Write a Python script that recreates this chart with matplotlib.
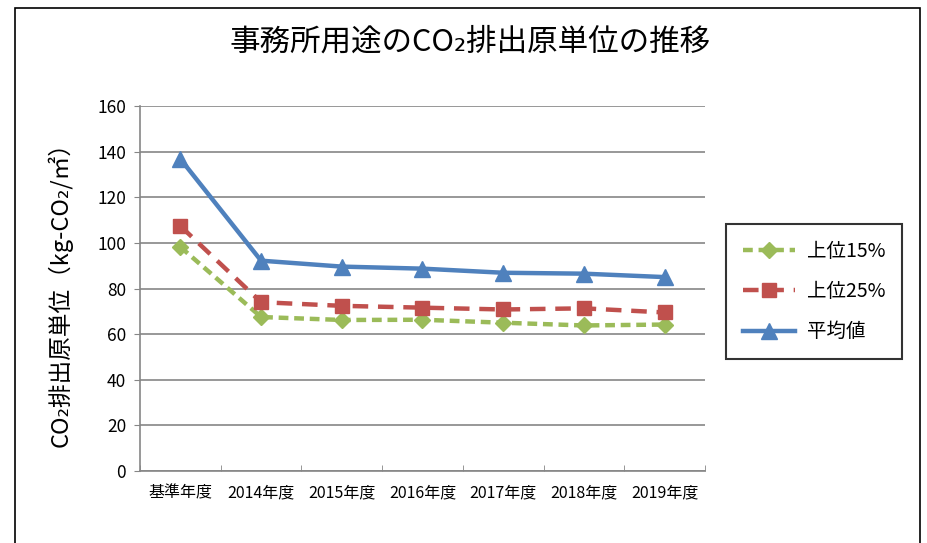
import matplotlib
matplotlib.use("Agg")
import matplotlib.pyplot as plt
from matplotlib.patches import Rectangle

plt.rcParams['font.family'] = ['Noto Sans CJK JP', 'DejaVu Sans']

categories = ["基準年度", "2014年度", "2015年度", "2016年度", "2017年度", "2018年度", "2019年度"]
top15 = [98.2, 67.5, 66.2, 66.3, 65.0, 63.8, 64.2]
top25 = [107.4, 74.0, 72.4, 71.6, 70.8, 71.3, 69.5]
average = [136.8, 92.2, 89.6, 88.7, 86.9, 86.5, 85.0]
series_names = ["上位15%", "上位25%", "平均値"]
title = "事務所用途のCO₂排出原単位の推移"
ylabel = "CO₂排出原単位（kg-CO₂/㎡）"

fig = plt.figure(figsize=(9.28, 5.43), dpi=100)
fig.patches.append(Rectangle((15/928, -0.1), (920-15)/928, 1.1 - 8/543, transform=fig.transFigure,
                             fill=False, edgecolor='black', linewidth=1.2))

ax = fig.add_axes([140/928, 1 - 471/543, (705-140)/928, (471-106)/543])
x = list(range(len(categories)))
ax.plot(x, top15, color='#9BBB59', linestyle=(0, (2.2, 1.3)), linewidth=3.2,
        marker='D', markersize=8, label=series_names[0])
ax.plot(x, top25, color='#C0504D', linestyle=(0, (3.5, 2.2)), linewidth=3.2,
        marker='s', markersize=10, label=series_names[1])
ax.plot(x, average, color='#4F81BD', linestyle='-', linewidth=3.2,
        marker='^', markersize=11, label=series_names[2])

ax.set_xlim(-0.5, len(categories) - 0.5)
ax.set_ylim(0, 160)
ax.set_yticks(range(0, 161, 20))
ax.set_xticks(x)
ax.set_xticklabels(categories, fontsize=11.5)
ax.set_xticks([i + 0.5 for i in range(-1, len(categories))], minor=True)
ax.tick_params(axis='x', which='major', length=0, pad=10)
ax.tick_params(axis='x', which='minor', length=4, direction='in', color='#868686')
ax.tick_params(axis='y', length=4, direction='out', color='#868686', labelsize=12.5, pad=6)
ax.yaxis.grid(True, color='#868686', linewidth=1.2)
ax.set_axisbelow(True)
for s in ['top', 'right']:
    ax.spines[s].set_visible(False)
for s in ['left', 'bottom']:
    ax.spines[s].set_color('#868686')
    ax.spines[s].set_linewidth(1.2)

ax.set_ylabel(ylabel, fontsize=17, labelpad=18)
fig.text(470/928, 1 - 42/543, title, ha='center', va='center', fontsize=22)

leg = fig.legend(loc='upper left', bbox_to_anchor=(726/928, 1 - 224/543), fontsize=14,
                 frameon=True, fancybox=False, edgecolor='black', handlelength=2.7,
                 handletextpad=0.6, labelspacing=1.0, borderpad=0.85, borderaxespad=0)
leg.get_frame().set_linewidth(1.5)

fig.savefig("out.png", dpi=100)
